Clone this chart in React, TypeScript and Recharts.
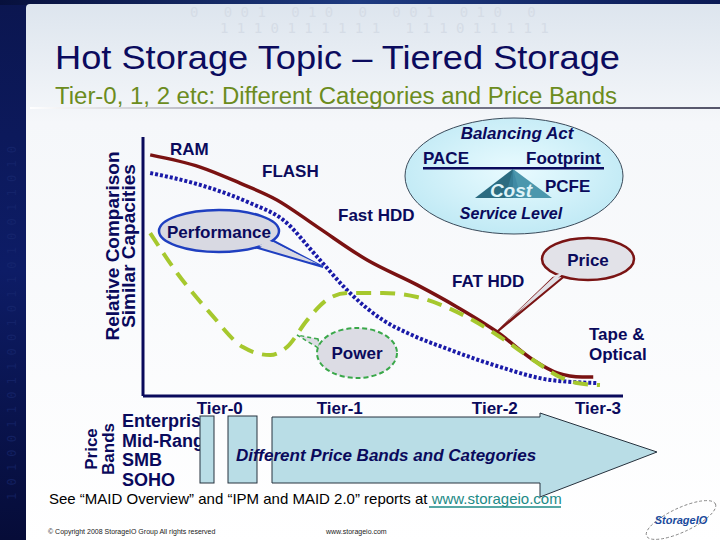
import { LineChart, Line, XAxis, YAxis } from 'recharts';

const tierLabels = ['Tier-0', 'Tier-1', 'Tier-2', 'Tier-3'];
const tierPositions = [16, 41, 73.3, 94.8];

// relative level (0-100) along the tier axis (0-100)
const priceCurve = [
  { x: 1.5, y: 93.1 }, { x: 11.9, y: 88.4 }, { x: 20.2, y: 82.2 }, { x: 27.9, y: 75.7 },
  { x: 36.3, y: 65.3 }, { x: 46.7, y: 52.5 }, { x: 57.1, y: 42.9 }, { x: 65.4, y: 34.4 },
  { x: 73.8, y: 24.7 }, { x: 81.3, y: 13.9 }, { x: 86.3, y: 8.9 }, { x: 91.5, y: 7.3 },
  { x: 93.8, y: 7.3 },
];
const performanceCurve = [
  { x: 1.5, y: 86.1 }, { x: 11.9, y: 81.5 }, { x: 22.3, y: 74.5 }, { x: 29.2, y: 68.0 },
  { x: 36.3, y: 53.7 }, { x: 43.1, y: 39.8 }, { x: 50, y: 29.3 }, { x: 55.6, y: 23.9 },
  { x: 64, y: 17.8 }, { x: 74.4, y: 11.2 }, { x: 84.8, y: 6.2 }, { x: 94.6, y: 5.0 },
];
const powerCurve = [
  { x: 1.5, y: 62.9 }, { x: 7.1, y: 47.5 }, { x: 14, y: 32.0 }, { x: 20.8, y: 18.9 },
  { x: 26.5, y: 15.8 }, { x: 30, y: 18.9 }, { x: 34.2, y: 29.3 }, { x: 38.3, y: 37.1 },
  { x: 42.5, y: 39.8 }, { x: 50, y: 39.8 }, { x: 57.1, y: 38.2 }, { x: 67.5, y: 30.5 },
  { x: 74.4, y: 22.8 }, { x: 81.3, y: 13.9 }, { x: 86.9, y: 7.3 }, { x: 90.4, y: 5.0 },
  { x: 95.2, y: 4.2 },
];

const priceBands = ['Enterprise', 'Mid-Range', 'SMB', 'SOHO'];
const topDigits = ['0   0 0 1   0 1 0   0   0 0 1   0 1 0   0', '1 1 1 0 1 1 1 1 1 1   1 1 1 0 1 1 1 1 1'];

const FONT = '"Liberation Sans", Arial, sans-serif';
const NAVY = '#0a0a5c';

const bold = { fontFamily: FONT, fontWeight: 700, fontSize: 17, fill: NAVY };

function Background() {
  return (
    <svg width={720} height={540} style={{ position: 'absolute', left: 0, top: 0 }}>
      <defs>
        <linearGradient id="band" x1="0" y1="0" x2="0" y2="1">
          <stop offset="0" stopColor="#0b1650" />
          <stop offset="0.5" stopColor="#0d1c66" />
          <stop offset="1" stopColor="#060c38" />
        </linearGradient>
        <linearGradient id="topband" x1="0" y1="0" x2="1" y2="0">
          <stop offset="0" stopColor="#07103c" />
          <stop offset="0.5" stopColor="#1d3a80" />
          <stop offset="1" stopColor="#0b1a55" />
        </linearGradient>
        <linearGradient id="panel" x1="0" y1="0" x2="0" y2="1">
          <stop offset="0" stopColor="#dde5ee" />
          <stop offset="0.22" stopColor="#f5f7fa" />
          <stop offset="1" stopColor="#ffffff" />
        </linearGradient>
        <linearGradient id="rule" x1="0" y1="0" x2="1" y2="0">
          <stop offset="0" stopColor="#ffffff" />
          <stop offset="0.4" stopColor="#8a8a9a" />
          <stop offset="1" stopColor="#55556a" />
        </linearGradient>
      </defs>
      <rect x={0} y={0} width={720} height={540} fill="url(#band)" />
      <rect x={0} y={0} width={720} height={5} fill="url(#topband)" />
      <rect x={26} y={4} width={700} height={540} rx={4} fill="url(#panel)" />
      {topDigits.map((d, i) => (
        <text key={d} x={190 + i * 30} y={17 + i * 16} fontFamily="DejaVu Sans Mono, monospace"
          fontSize={14} fill="#d5dce6" style={{ whiteSpace: 'pre' }}>{d}</text>
      ))}
      <text transform="translate(16,500) rotate(-90)" fontFamily="DejaVu Sans Mono, monospace"
        fontSize={12} fill="#1a2a72" opacity={0.6}>1 0 1 0 0 1 1 0 1 1 0 0 1 0 1 1 0 1 0 0 1 1 0 1 0</text>
      <rect x={30} y={107} width={690} height={2} fill="url(#rule)" />
    </svg>
  );
}

function Overlay() {
  return (
    <svg width={720} height={540} style={{ position: 'absolute', left: 0, top: 0, pointerEvents: 'none' }}>
      <defs>
        <radialGradient id="ell" cx="0.5" cy="0.45" r="0.6">
          <stop offset="0" stopColor="#e9fbff" />
          <stop offset="1" stopColor="#bde8f4" />
        </radialGradient>
      </defs>

      <text x={55} y={69} fontFamily={FONT} fontSize={34} fill="#0b0b5e" textLength={565} lengthAdjust="spacingAndGlyphs">Hot Storage Topic – Tiered Storage</text>
      <text x={55} y={104} fontFamily={FONT} fontSize={23} fill="#6c8c1e" textLength={562} lengthAdjust="spacingAndGlyphs">Tier-0, 1, 2 etc: Different Categories and Price Bands</text>

      <text {...bold} fontSize={19} textAnchor="middle" transform="translate(119,246) rotate(-90)">Relative Comparison</text>
      <text {...bold} fontSize={19} textAnchor="middle" transform="translate(135,246) rotate(-90)">Similar Capacities</text>

      <text {...bold} x={170} y={155}>RAM</text>
      <text {...bold} x={262} y={177}>FLASH</text>
      <text {...bold} x={338} y={221}>Fast HDD</text>
      <text {...bold} x={452} y={287}>FAT HDD</text>
      <text {...bold} x={589} y={340}>Tape &amp;</text>
      <text {...bold} x={589} y={360}>Optical</text>

      {/* Balancing act */}
      <ellipse cx={514} cy={176} rx={109} ry={58} fill="url(#ell)" stroke="#3a4a5a" strokeWidth={1} />
      <text {...bold} fontStyle="italic" x={517} y={139} textAnchor="middle">Balancing Act</text>
      <text {...bold} x={423} y={164}>PACE</text>
      <text {...bold} x={526} y={164}>Footprint</text>
      <rect x={423} y={167} width={181} height={2.5} fill={NAVY} />
      <polygon points="513,169 475,198 513,198" fill="#2b6b80" />
      <polygon points="513,169 552,198 513,198" fill="#4b97ad" />
      <polygon points="513,169 505,198 521,198" fill="#3a84a0" opacity={0.7} />
      <text {...bold} fontSize={19} fontStyle="italic" fill="#dff3f8" x={511} y={197} textAnchor="middle">Cost</text>
      <text {...bold} x={545} y={192}>PCFE</text>
      <text {...bold} fontSize={16} fontStyle="italic" x={511} y={219} textAnchor="middle">Service Level</text>

      {/* Performance callout */}
      <polygon points="258,248 323,267 270,239" fill="#d8d9e2" stroke="#1f3fc0" strokeWidth={2} />
      <ellipse cx={219} cy={231} rx={60} ry={21} fill="#d8d9e2" stroke="#1f3fc0" strokeWidth={2.5} />
      <polygon points="259,246 318,264 268,240" fill="#d8d9e2" />
      <text {...bold} x={219} y={238} textAnchor="middle">Performance</text>

      {/* Power callout */}
      <polygon points="318,339 297,335 320,349" fill="#dcdce4" stroke="#3aa84a" strokeWidth={1.5} strokeDasharray="4 3" />
      <ellipse cx={357} cy={353} rx={40} ry={25} fill="#dcdce4" stroke="#3aa84a" strokeWidth={2} strokeDasharray="5 3" />
      <text {...bold} x={357} y={359} textAnchor="middle">Power</text>

      {/* Price callout */}
      <polygon points="553,278 497,332 567,274" fill="#e2e2e8" stroke="#7a1414" strokeWidth={2} />
      <ellipse cx={588} cy={259} rx={46} ry={21} fill="#e2e2e8" stroke="#7a1414" strokeWidth={2.5} />
      <polygon points="556,275 503,325 565,272" fill="#e2e2e8" />
      <text {...bold} x={588} y={266} textAnchor="middle">Price</text>

      {/* price bands */}
      <text {...bold} transform="translate(97,449) rotate(-90)" textAnchor="middle">Price</text>
      <text {...bold} transform="translate(114,449) rotate(-90)" textAnchor="middle">Bands</text>
      {priceBands.map((b, i) => (
        <text key={b} {...bold} fontSize={18} x={122} y={427 + i * 19.5}>{b}</text>
      ))}
      <rect x={200} y={416} width={14} height={67} fill="#b9dde6" stroke="#26323e" strokeWidth={1} />
      <rect x={228} y={416} width={29} height={67} fill="#b9dde6" stroke="#26323e" strokeWidth={1} />
      <polygon points="272,417 540,417 540,413 657,452 540,497 540,483 272,483" fill="#b9dde6" stroke="#26323e" strokeWidth={1} />
      <text {...bold} fontStyle="italic" x={236} y={461}>Different Price Bands and Categories</text>

      <text x={49} y={504} fontFamily={FONT} fontSize={15} fill="#000">
        See “MAID Overview” and “IPM and MAID 2.0” reports at{' '}
        <tspan fill="#1c8a86">www.storageio.com</tspan>
      </text>
      <line x1={429} y1={507} x2={561} y2={507} stroke="#1c8a86" strokeWidth={1.5} />
      <text x={48} y={534} fontFamily={FONT} fontSize={7} fill="#222">© Copyright 2008 StorageIO Group All rights reserved</text>
      <text x={326} y={534} fontFamily={FONT} fontSize={7} fill="#222">www.storageio.com</text>

      <ellipse cx={681} cy={520} rx={38} ry={12} transform="rotate(-25 681 520)" fill="none" stroke="#777" strokeWidth={0.8} strokeDasharray="3 2" />
      <text x={681} y={524} fontFamily={FONT} fontSize={11} fontStyle="italic" fontWeight={700} fill="#1a4a9c" textAnchor="middle">StorageIO</text>
    </svg>
  );
}

export default function App() {
  return (
    <div style={{ position: 'absolute', left: 0, top: 0, width: 720, height: 540, overflow: 'hidden' }}>
      <Background />
      <div style={{ position: 'absolute', left: 0, top: 0 }}>
        <LineChart width={720} height={540} margin={{ top: 137, right: 97, bottom: 114, left: 133 }}>
          <XAxis
            type="number"
            dataKey="x"
            domain={[0, 100]}
            ticks={tierPositions}
            tickFormatter={(v) => tierLabels[tierPositions.indexOf(v)]}
            height={30}
            tickLine={false}
            tickSize={6}
            tickMargin={0}
            axisLine={{ stroke: NAVY, strokeWidth: 3 }}
            tick={{ fill: NAVY, fontSize: 17, fontWeight: 700, fontFamily: FONT }}
            allowDataOverflow
          />
          <YAxis
            type="number"
            dataKey="y"
            domain={[0, 100]}
            width={10}
            tick={false}
            tickLine={false}
            axisLine={{ stroke: NAVY, strokeWidth: 3 }}
          />
          <Line data={priceCurve} dataKey="y" type="monotone" stroke="#7a1212" strokeWidth={3.5} dot={false} isAnimationActive={false} />
          <Line data={performanceCurve} dataKey="y" type="monotone" stroke="#1a1aa8" strokeWidth={4} strokeDasharray="3 2" dot={false} isAnimationActive={false} />
          <Line data={powerCurve} dataKey="y" type="monotone" stroke="#a6c82e" strokeWidth={4} strokeDasharray="15 9" dot={false} isAnimationActive={false} />
        </LineChart>
      </div>
      <Overlay />
    </div>
  );
}
